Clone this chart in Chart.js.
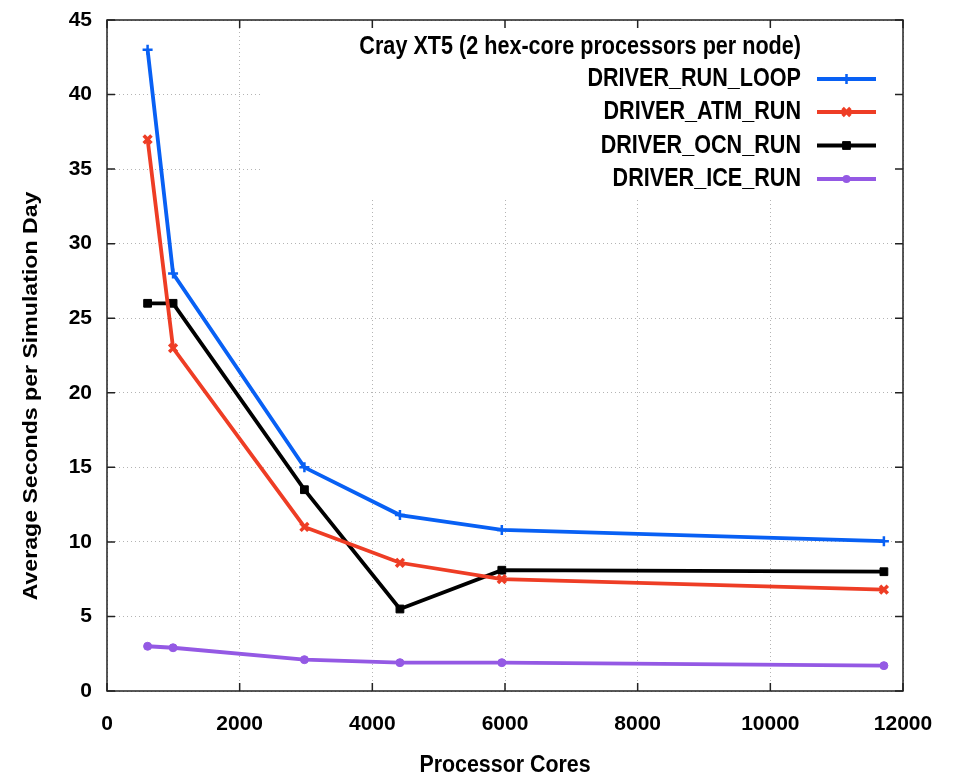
<!DOCTYPE html>
<html><head><meta charset="utf-8">
<script src="https://cdn.jsdelivr.net/npm/chart.js@4/dist/chart.umd.min.js"></script>
<style>html,body{margin:0;padding:0;background:#fff}#wrap{width:955px;height:775px}</style>
</head><body><div id="wrap"><canvas id="c" width="955" height="775"></canvas></div>
<script>
const cores = [612, 996, 2976, 4416, 5952, 11712];
const driverRunLoop = [43, 28, 15, 11.8, 10.8, 10.05];
const driverAtmRun = [37, 23, 11, 8.6, 7.5, 6.8];
const driverOcnRun = [26, 26, 13.5, 5.5, 8.1, 8.0];
const driverIceRun = [3.0, 2.9, 2.1, 1.9, 1.9, 1.7];
const seriesNames = ['DRIVER_RUN_LOOP', 'DRIVER_ATM_RUN', 'DRIVER_OCN_RUN', 'DRIVER_ICE_RUN'];
const xTickValues = [0, 2000, 4000, 6000, 8000, 10000, 12000];
const yTickValues = [0, 5, 10, 15, 20, 25, 30, 35, 40, 45];
const legendTitle = 'Cray XT5 (2 hex-core processors per node)';
const xAxisTitle = 'Processor Cores';
const yAxisTitle = 'Average Seconds per Simulation Day';

const FONT = "'Liberation Sans', Arial, Helvetica, sans-serif";
const colors = ['#0860f4', '#ee3d25', '#000000', '#9459e4'];
const styles = ['cross', 'crossRot', 'rect', 'circle'];
const radii = [5, 5.5, 5.5, 4];
const pbw = [2.5, 3.5, 1, 1];
const seriesData = [driverRunLoop, driverAtmRun, driverOcnRun, driverIceRun];

const datasets = seriesNames.map((name, i) => ({
  label: name,
  data: cores.map((c, j) => ({x: c, y: seriesData[i][j]})),
  borderColor: colors[i],
  backgroundColor: colors[i],
  borderWidth: 3.8,
  pointStyle: styles[i],
  pointRadius: radii[i],
  pointBorderWidth: pbw[i],
  pointBackgroundColor: colors[i],
  pointBorderColor: colors[i],
  tension: 0,
  fill: false
}));

function drawMarker(ctx, style, x, y, r, color, bw) {
  ctx.save();
  ctx.strokeStyle = color; ctx.fillStyle = color; ctx.lineWidth = bw;
  ctx.beginPath();
  if (style === 'cross') {
    ctx.moveTo(x - r, y); ctx.lineTo(x + r, y); ctx.moveTo(x, y - r); ctx.lineTo(x, y + r); ctx.stroke();
  } else if (style === 'crossRot') {
    const d = r * 0.7071;
    ctx.moveTo(x - d, y - d); ctx.lineTo(x + d, y + d); ctx.moveTo(x - d, y + d); ctx.lineTo(x + d, y - d); ctx.stroke();
  } else if (style === 'rect') {
    const s = r * 0.7071;
    ctx.rect(x - s, y - s, 2 * s, 2 * s); ctx.fill(); ctx.stroke();
  } else {
    ctx.arc(x, y, r, 0, Math.PI * 2); ctx.fill();
  }
  ctx.restore();
}

function stretchedText(ctx, text, x, y, rot, sx, sy, font, align, baseline) {
  ctx.save();
  ctx.translate(x, y);
  if (rot) ctx.rotate(rot);
  ctx.scale(sx, sy);
  ctx.font = font;
  ctx.textAlign = align;
  ctx.textBaseline = baseline;
  ctx.fillStyle = '#000';
  ctx.fillText(text, 0, 0);
  ctx.restore();
}

const boxPlugin = {
  id: 'gnuplotBox',
  beforeDatasetsDraw(chart) {
    const ctx = chart.ctx, a = chart.chartArea;
    ctx.save();
    ctx.fillStyle = '#ffffff';
    ctx.fillRect(263, a.top + 1, a.right - 263 - 1, 196 - a.top);
    ctx.restore();
  },
  afterDraw(chart) {
    const ctx = chart.ctx, a = chart.chartArea;
    const xs = chart.scales.x, ys = chart.scales.y;
    ctx.save();
    ctx.strokeStyle = '#222';
    ctx.lineWidth = 1.5;
    ctx.strokeRect(a.left, a.top, a.right - a.left, a.bottom - a.top);
    const tl = 8;
    ctx.beginPath();
    xTickValues.forEach(v => {
      const px = xs.getPixelForValue(v);
      ctx.moveTo(px, a.bottom); ctx.lineTo(px, a.bottom - tl);
      ctx.moveTo(px, a.top); ctx.lineTo(px, a.top + tl);
    });
    yTickValues.forEach(v => {
      const py = ys.getPixelForValue(v);
      ctx.moveTo(a.left, py); ctx.lineTo(a.left + tl, py);
      ctx.moveTo(a.right, py); ctx.lineTo(a.right - tl, py);
    });
    ctx.stroke();
    ctx.restore();

    stretchedText(ctx, xAxisTitle, (a.left + a.right) / 2, 772, 0, 1, 1.09,
      'bold 21.4px ' + FONT, 'center', 'alphabetic');
    stretchedText(ctx, yAxisTitle, 37, 396, -Math.PI / 2, 1.1, 1,
      'bold 21px ' + FONT, 'center', 'alphabetic');

    const lf = 'bold 21.6px ' + FONT;
    stretchedText(ctx, legendTitle, 801, 47, 0, 1, 1.2, lf, 'right', 'middle');
    const rows = [79, 112, 145.5, 179];
    chart.data.datasets.forEach((ds, i) => {
      const y = rows[i];
      stretchedText(ctx, ds.label, 801, y, 0, 1, 1.2, lf, 'right', 'middle');
      ctx.save();
      ctx.strokeStyle = ds.borderColor;
      ctx.lineWidth = 4;
      ctx.beginPath(); ctx.moveTo(817, y); ctx.lineTo(876, y); ctx.stroke();
      ctx.restore();
      drawMarker(ctx, ds.pointStyle, 846.5, y, ds.pointRadius, ds.borderColor, ds.pointBorderWidth);
    });
  }
};

new Chart(document.getElementById('c'), {
  type: 'line',
  data: { datasets },
  options: {
    responsive: false,
    devicePixelRatio: 1,
    animation: false,
    layout: { padding: { top: 20, right: 52, left: 0, bottom: 0 } },
    plugins: { legend: { display: false }, tooltip: { enabled: false }, title: { display: false } },
    scales: {
      x: {
        type: 'linear', min: 0, max: 12000,
        afterBuildTicks: s => { s.ticks = xTickValues.map(v => ({ value: v })); },
        afterFit: s => { s.height = 84; s.paddingLeft = 0; s.paddingRight = 0; },
        ticks: { color: '#000', font: { family: FONT, size: 21, weight: 'bold' }, padding: 21, maxRotation: 0, autoSkip: false, callback: v => String(v) },
        grid: { color: '#b4b4b4', lineWidth: 1, drawTicks: false },
        border: { display: false, dash: [1, 3] }
      },
      y: {
        type: 'linear', min: 0, max: 45,
        afterBuildTicks: s => { s.ticks = yTickValues.map(v => ({ value: v })); },
        afterFit: s => { s.width = 107; s.paddingTop = 0; s.paddingBottom = 0; },
        ticks: { color: '#000', font: { family: FONT, size: 21, weight: 'bold' }, padding: 15, autoSkip: false, callback: v => String(v) },
        grid: { color: '#b4b4b4', lineWidth: 1, drawTicks: false },
        border: { display: false, dash: [1, 3] }
      }
    }
  },
  plugins: [boxPlugin]
});
</script></body></html>
